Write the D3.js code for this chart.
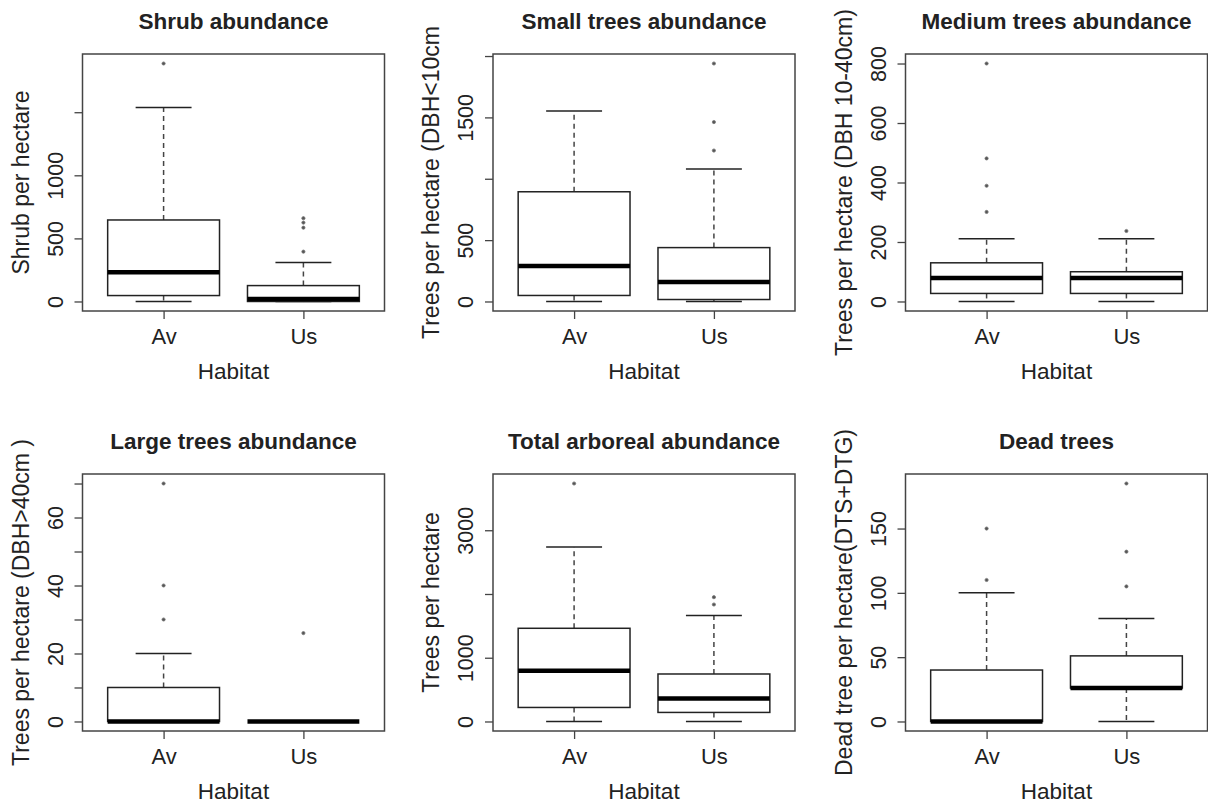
<!DOCTYPE html>
<html>
<head>
<meta charset="utf-8">
<script src="https://cdn.jsdelivr.net/npm/d3@7"></script>
<style>
  body { margin: 0; background: #fff; }
  svg text { font-family: "Liberation Sans", Arial, sans-serif; fill: #222; }
</style>
</head>
<body>
<div id="chart"></div>
<script>
// boxplot stats per habitat: [lower whisker, Q1, median, Q3, upper whisker]
var habitats = ["Av", "Us"];

var shrub = [[0, 47, 231, 646, 1538], [0, 0, 20, 126, 309]];
var shrubOut = [[1886], [395, 585, 625, 660]];

var smallTrees = [[0, 49, 289, 894, 1552], [0, 16, 158, 439, 1080]];
var smallTreesOut = [[], [1230, 1462, 1939]];

var mediumTrees = [[0, 27, 79, 130, 211], [0, 27, 79, 100, 211]];
var mediumTreesOut = [[301, 389, 481, 800], [237]];

var largeTrees = [[0, 0, 0, 10, 20], [0, 0, 0, 0, 0]];
var largeTreesOut = [[30, 40, 70], [26]];

var totalTrees = [[0, 220, 797, 1462, 2736], [0, 142, 362, 745, 1662]];
var totalTreesOut = [[3733], [1835, 1950]];

var deadTrees = [[0, 0, 0, 40, 100], [0, 26, 26, 51, 80]];
var deadTreesOut = [[110, 150], [105, 132, 185]];

var titles = ["Shrub abundance", "Small trees abundance", "Medium trees abundance",
              "Large trees abundance", "Total arboreal abundance", "Dead trees"];
var yLabels = ["Shrub per hectare", "Trees per hectare (DBH<10cm", "Trees per hectare (DBH 10-40cm)",
               "Trees per hectare (DBH>40cm )", "Trees per hectare", "Dead tree per hectare(DTS+DTG)"];

var yTicks = [[0, 500, 1000, 1500], [0, 500, 1000, 1500, 2000], [0, 200, 400, 600, 800],
              [0, 10, 20, 30, 40, 50, 60, 70], [0, 1000, 2000, 3000], [0, 50, 100, 150]];
// labels R kept (others dropped for overlap)
var yTickLabels = [["0", "500", "1000", ""], ["0", "500", "", "1500", ""], ["0", "200", "400", "600", "800"],
                   ["0", "", "20", "", "40", "", "60", ""], ["0", "1000", "", "3000"], ["0", "50", "100", "150"]];

var stats = [shrub, smallTrees, mediumTrees, largeTrees, totalTrees, deadTrees];
var outliers = [shrubOut, smallTreesOut, mediumTreesOut, largeTreesOut, totalTreesOut, deadTreesOut];

var fullWidth = 1208, fullHeight = 805;
var colLeft = [82.5, 493, 905.5],
    rowTop = [54, 474],
    pw = 302, ph = 257;

var svg = d3.select("#chart")
    .append("svg")
    .attr("width", fullWidth)
    .attr("height", fullHeight);

for (var p = 0; p < 6; p++) {
    var col = p % 3, row = Math.floor(p / 3);
    var g = svg.append("g")
        .attr("transform", "translate(" + colLeft[col] + "," + rowTop[row] + ")");

    // R style 4% range extension
    var allVals = d3.merge(stats[p].concat(outliers[p]));
    var lo = d3.min(allVals), hi = d3.max(allVals), r = hi - lo;
    var y = d3.scaleLinear().domain([lo - 0.04 * r, hi + 0.04 * r]).range([ph, 0]);
    var x = d3.scaleLinear().domain([0.42, 2.58]).range([0, pw]);
    var bw = x(1.4) - x(1.0);   // half box width (0.8 wide)
    var cw = bw / 2;             // half staple width

    // y axis
    var ticks = yTicks[p], tlabels = yTickLabels[p];
    var yAxis = d3.axisLeft(y)
        .tickValues(ticks)
        .tickSize(8)
        .tickFormat((d, i) => tlabels[i]);
    var ya = g.append("g").call(yAxis);
    ya.select(".domain").remove();
    ya.selectAll(".tick line").attr("stroke", "#444").attr("stroke-width", 1.3);
    ya.selectAll(".tick text")
        .attr("x", null).attr("dy", null)
        .attr("transform", "translate(-20,0) rotate(-90)")
        .attr("text-anchor", "middle")
        .attr("fill", "#333")
        .style("font-size", "21.5px");

    // x axis
    var xAxis = d3.axisBottom(x)
        .tickValues([1, 2])
        .tickSize(8)
        .tickFormat((d, i) => habitats[i]);
    var xa = g.append("g").attr("transform", "translate(0," + ph + ")").call(xAxis);
    xa.select(".domain").remove();
    xa.selectAll(".tick line").attr("stroke", "#444").attr("stroke-width", 1.3);
    xa.selectAll(".tick text")
        .attr("dy", null).attr("y", 33)
        .attr("fill", "#333")
        .style("font-size", "22px");

    // boxes
    stats[p].forEach(function (s, i) {
        var cx = x(i + 1);
        var bg = g.append("g");
        // whiskers
        bg.append("line")
            .attr("x1", cx).attr("x2", cx).attr("y1", y(s[3])).attr("y2", y(s[4]))
            .attr("stroke", "#444").attr("stroke-width", 1.5).attr("stroke-dasharray", "5,4");
        bg.append("line")
            .attr("x1", cx).attr("x2", cx).attr("y1", y(s[1])).attr("y2", y(s[0]))
            .attr("stroke", "#444").attr("stroke-width", 1.5).attr("stroke-dasharray", "5,4");
        // staples
        [s[0], s[4]].forEach(function (v) {
            bg.append("line")
                .attr("x1", cx - cw).attr("x2", cx + cw).attr("y1", y(v)).attr("y2", y(v))
                .attr("stroke", "#222").attr("stroke-width", 1.5);
        });
        // box
        bg.append("rect")
            .attr("x", cx - bw).attr("width", 2 * bw)
            .attr("y", y(s[3])).attr("height", y(s[1]) - y(s[3]))
            .attr("fill", "#fff").attr("stroke", "#222").attr("stroke-width", 1.5);
        // median
        bg.append("line")
            .attr("x1", cx - bw).attr("x2", cx + bw).attr("y1", y(s[2])).attr("y2", y(s[2]))
            .attr("stroke", "#000").attr("stroke-width", 4.5);
        // outliers
        bg.selectAll("circle")
            .data(outliers[p][i])
            .enter()
            .append("circle")
            .attr("cx", cx).attr("cy", d => y(d)).attr("r", 1.6)
            .attr("fill", "#555").attr("stroke", "#777").attr("stroke-width", 0.8);
    });

    // frame
    g.append("rect")
        .attr("width", pw).attr("height", ph)
        .attr("fill", "none").attr("stroke", "#444").attr("stroke-width", 1.5);

    // titles and labels
    g.append("text")
        .attr("x", pw / 2).attr("y", -25)
        .attr("text-anchor", "middle")
        .attr("fill", "#111")
        .style("font-size", "22.5px").style("font-weight", "bold")
        .text(titles[p]);
    g.append("text")
        .attr("x", pw / 2).attr("y", ph + 68)
        .attr("text-anchor", "middle")
        .attr("fill", "#333")
        .style("font-size", "22.5px")
        .text("Habitat");
    g.append("text")
        .attr("transform", "translate(-54," + (ph / 2) + ") rotate(-90)")
        .attr("text-anchor", "middle")
        .attr("fill", "#333")
        .style("font-size", "23px")
        .text(yLabels[p]);
}
</script>
</body>
</html>
